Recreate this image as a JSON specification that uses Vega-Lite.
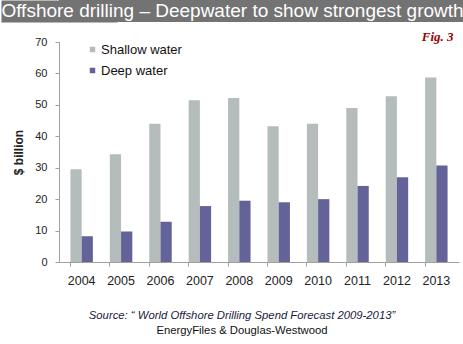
{
  "$schema": "https://vega.github.io/schema/vega-lite/v6.json",
  "padding": 0,
  "autosize": {"type": "pad"},
  "background": "white",
  "spacing": 9,
  "resolve": {"legend": {"color": "independent"}, "scale": {"color": "independent"}},
  "config": {"view": {"stroke": null}, "font": "Liberation Sans"},
  "vconcat": [
    {
      "width": 405,
      "height": 22,
      "view": {"fill": "#737373", "stroke": null},
      "data": {"values": [{"t": "Offshore drilling – Deepwater to show strongest growth"}]},
      "mark": {"type": "text", "color": "white", "fontSize": 19, "font": "Liberation Sans", "baseline": "middle", "align": "center", "dx": -29},
      "encoding": {
        "text": {"field": "t"},
        "y": {
          "datum": 0, "type": "quantitative",
          "scale": {"domain": [-1, 1]},
          "axis": {"title": null, "labels": false, "ticks": false, "grid": false, "domainWidth": 116, "domainColor": "#737373", "domainCap": "butt"}
        }
      }
    },
    {
      "width": 400,
      "height": 220,
      "title": {
        "text": "Source: “ World Offshore Drilling Spend Forecast 2009-2013”",
        "subtitle": "EnergyFiles & Douglas-Westwood",
        "orient": "bottom",
        "anchor": "middle",
        "dx": -17,
        "offset": 23,
        "font": "Liberation Sans",
        "fontSize": 11.3,
        "fontStyle": "italic",
        "fontWeight": "normal",
        "color": "#1a1a40",
        "subtitleFont": "Liberation Sans",
        "subtitleFontSize": 11.3,
        "subtitleColor": "#111",
        "subtitlePadding": 4
      },
      "layer": [
        {
          "data": {"values": [
            {"year": "2004", "type": "Shallow water", "value": 29.5},
            {"year": "2005", "type": "Shallow water", "value": 34.3},
            {"year": "2006", "type": "Shallow water", "value": 44.0},
            {"year": "2007", "type": "Shallow water", "value": 51.5},
            {"year": "2008", "type": "Shallow water", "value": 52.2},
            {"year": "2009", "type": "Shallow water", "value": 43.2},
            {"year": "2010", "type": "Shallow water", "value": 44.0},
            {"year": "2011", "type": "Shallow water", "value": 49.0},
            {"year": "2012", "type": "Shallow water", "value": 52.7},
            {"year": "2013", "type": "Shallow water", "value": 58.7},
            {"year": "2004", "type": "Deep water", "value": 8.2},
            {"year": "2005", "type": "Deep water", "value": 9.7},
            {"year": "2006", "type": "Deep water", "value": 12.8},
            {"year": "2007", "type": "Deep water", "value": 17.8},
            {"year": "2008", "type": "Deep water", "value": 19.5},
            {"year": "2009", "type": "Deep water", "value": 19.0},
            {"year": "2010", "type": "Deep water", "value": 20.0},
            {"year": "2011", "type": "Deep water", "value": 24.2},
            {"year": "2012", "type": "Deep water", "value": 27.0},
            {"year": "2013", "type": "Deep water", "value": 30.7}
          ]},
          "mark": {"type": "bar"},
          "encoding": {
            "x": {
              "field": "year", "type": "nominal",
              "scale": {"paddingInner": 0.43, "paddingOuter": 0.29},
              "axis": {
                "title": null, "labelAngle": 0, "labelFontSize": 12.5, "labelColor": "#222",
                "labelPadding": 8, "tickSize": 4, "tickColor": "#a0a0a0", "domainColor": "#a0a0a0",
                "bandPosition": 0, "grid": false
              }
            },
            "xOffset": {"field": "type", "sort": ["Shallow water", "Deep water"], "scale": {"paddingInner": 0}},
            "y": {
              "field": "value", "type": "quantitative",
              "scale": {"domain": [0, 70], "nice": false},
              "axis": {
                "values": [0, 10, 20, 30, 40, 50, 60, 70],
                "labelOverlap": false,
                "title": ["", "$ billion"], "titleFontSize": 12, "titleFontWeight": "bold", "titleColor": "#222",
                "titleLineHeight": 12, "titlePadding": 9,
                "labelFontSize": 11, "labelColor": "#222", "labelPadding": 8,
                "tickSize": 4, "tickColor": "#a0a0a0", "domainColor": "#a0a0a0", "grid": false
              }
            },
            "color": {
              "field": "type", "type": "nominal",
              "sort": ["Shallow water", "Deep water"],
              "scale": {"domain": ["Shallow water", "Deep water"], "range": ["#b4bcbc", "#63639a"]},
              "legend": {
                "title": null, "orient": "none", "legendX": 27, "legendY": 1, "padding": 0,
                "symbolType": "square", "symbolSize": 30, "symbolStrokeWidth": 0,
                "labelFontSize": 13, "labelColor": "#111", "labelOffset": 2, "rowPadding": 7
              }
            }
          }
        },
        {
          "data": {"values": [{"f": "Fig. 3"}]},
          "mark": {"type": "text", "font": "Liberation Serif", "fontSize": 13, "fontWeight": "bold", "fontStyle": "italic", "color": "#990000", "align": "right", "baseline": "alphabetic", "dx": 6, "dy": -1},
          "encoding": {
            "x": {
              "datum": "2013", "type": "nominal", "bandPosition": 1,
              "axis": {
                "title": null, "labelAngle": 0, "labelFontSize": 12.5, "labelColor": "#222",
                "labelPadding": 8, "tickSize": 4, "tickColor": "#a0a0a0", "domainColor": "#a0a0a0",
                "bandPosition": 0, "grid": false
              }
            },
            "y": {
              "datum": 70, "type": "quantitative",
              "axis": {
                "values": [0, 10, 20, 30, 40, 50, 60, 70],
                "labelOverlap": false,
                "title": ["", "$ billion"], "titleFontSize": 12, "titleFontWeight": "bold", "titleColor": "#222",
                "titleLineHeight": 12, "titlePadding": 9,
                "labelFontSize": 11, "labelColor": "#222", "labelPadding": 8,
                "tickSize": 4, "tickColor": "#a0a0a0", "domainColor": "#a0a0a0", "grid": false
              }
            },
            "text": {"field": "f"}
          }
        }
      ]
    }
  ]
}
